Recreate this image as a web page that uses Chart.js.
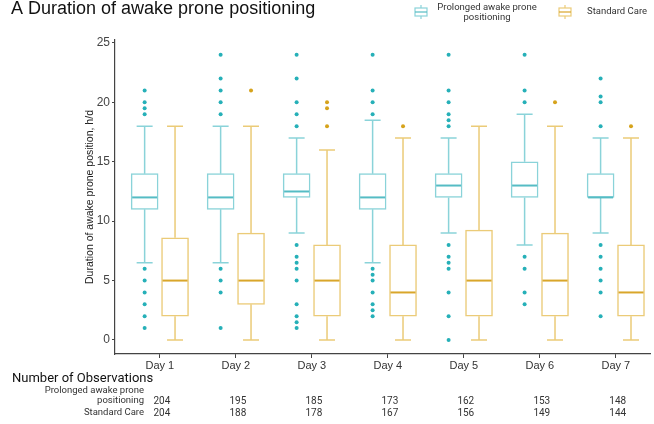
<!DOCTYPE html>
<html lang="en">
<head>
<meta charset="UTF-8">
<title>Duration of awake prone positioning</title>
<script src="https://cdn.jsdelivr.net/npm/chart.js"></script>
<style>
  html, body { margin: 0; padding: 0; background: #fff; }
</style>
</head>
<body>
<canvas id="boxChart" width="654" height="424"></canvas>
<script>
// categories
const days = ['Day 1', 'Day 2', 'Day 3', 'Day 4', 'Day 5', 'Day 6', 'Day 7'];
const yTicks = [0, 5, 10, 15, 20, 25];

// Prolonged awake prone positioning (h/d)
const proneLow  = [6.5, 6.5, 9, 6.5, 9, 8, 9];
const proneQ1   = [11, 11, 12, 11, 12, 12, 12];
const proneMed  = [12, 12, 12.5, 12, 13, 13, 12];
const proneQ3   = [14, 14, 14, 14, 14, 15, 14];
const proneHigh = [18, 18, 17, 18.5, 17, 19, 17];
const proneOutliers = [
    [21, 20, 19.5, 19, 6, 5, 4, 3, 2, 1],
    [24, 22, 21, 20, 19, 6, 5, 4, 1],
    [24, 22, 20, 19, 18, 8, 7, 6.5, 6, 5, 3, 2, 1.5, 1],
    [24, 21, 20, 19, 6, 5.5, 5, 4, 3, 2.5, 2],
    [24, 21, 20, 19, 18.5, 18, 8, 7, 6.5, 6, 4, 2, 0],
    [24, 21, 20, 7, 6, 4, 3],
    [22, 20.5, 20, 18, 8, 7, 6, 5, 4, 2]
];

// Standard care (h/d)
const stdLow  = [0, 0, 0, 0, 0, 0, 0];
const stdQ1   = [2, 3, 2, 2, 2, 2, 2];
const stdMed  = [5, 5, 5, 4, 5, 5, 4];
const stdQ3   = [8.6, 9, 8, 8, 9.25, 9, 8];
const stdHigh = [18, 18, 16, 17, 18, 18, 17];
const stdOutliers = [[], [21], [20, 19.5, 18], [18], [], [20], [18]];

// number of observations
const obsProne = [204, 195, 185, 173, 162, 153, 148];
const obsStd   = [204, 188, 178, 167, 156, 149, 144];

// colours
const proneLine = '#8ad3d9';
const proneMid  = '#55bcc4';
const proneDot  = '#26b0b8';
const stdLine   = '#ebcb78';
const stdMid    = '#d9a62a';
const stdDot    = '#d6a31c';

const OFFSET = 0.2;   // half distance between the two boxes of a day
const BOX_W = 27;
const CAP_W = 16;

function boxData(q1, q3, off) {
    return days.map((d, i) => ({ x: i + 1 + off, y: [q1[i], q3[i]] }));
}
function outlierData(list, off) {
    const pts = [];
    list.forEach((vals, i) => vals.forEach(v => pts.push({ x: i + 1 + off, y: v })));
    return pts;
}

const groups = [
    { off: -OFFSET, low: proneLow, q1: proneQ1, med: proneMed, q3: proneQ3, high: proneHigh, line: proneLine, mid: proneMid },
    { off: OFFSET, low: stdLow, q1: stdQ1, med: stdMed, q3: stdQ3, high: stdHigh, line: stdLine, mid: stdMid }
];

// whiskers, medians, title, legend and the observation table
const boxParts = {
    id: 'boxParts',
    afterDatasetsDraw(chart) {
        const { ctx, scales: { x, y } } = chart;
        ctx.save();
        groups.forEach(g => {
            days.forEach((d, i) => {
                const cx = x.getPixelForValue(i + 1 + g.off);
                ctx.strokeStyle = g.line;
                ctx.lineWidth = 1.5;
                ctx.beginPath();
                ctx.moveTo(cx, y.getPixelForValue(g.high[i]));
                ctx.lineTo(cx, y.getPixelForValue(g.q3[i]));
                ctx.moveTo(cx, y.getPixelForValue(g.q1[i]));
                ctx.lineTo(cx, y.getPixelForValue(g.low[i]));
                ctx.moveTo(cx - CAP_W / 2, y.getPixelForValue(g.high[i]));
                ctx.lineTo(cx + CAP_W / 2, y.getPixelForValue(g.high[i]));
                ctx.moveTo(cx - CAP_W / 2, y.getPixelForValue(g.low[i]));
                ctx.lineTo(cx + CAP_W / 2, y.getPixelForValue(g.low[i]));
                ctx.stroke();
                ctx.strokeStyle = g.mid;
                ctx.lineWidth = 2;
                ctx.beginPath();
                ctx.moveTo(cx - BOX_W / 2 + 1, y.getPixelForValue(g.med[i]));
                ctx.lineTo(cx + BOX_W / 2 - 1, y.getPixelForValue(g.med[i]));
                ctx.stroke();
            });
        });
        ctx.restore();
    },
    afterDraw(chart) {
        const { ctx, scales: { x } } = chart;
        ctx.save();
        // title
        ctx.fillStyle = '#111';
        ctx.font = '18px "Liberation Sans", Arial, sans-serif';
        ctx.textAlign = 'left';
        ctx.textBaseline = 'alphabetic';
        ctx.fillText('A Duration of awake prone positioning', 11, 14);

        // legend
        const legendIcon = (cx, cy, line, mid) => {
            ctx.strokeStyle = line;
            ctx.lineWidth = 1.2;
            ctx.beginPath();
            ctx.moveTo(cx, cy - 7); ctx.lineTo(cx, cy - 4);
            ctx.moveTo(cx, cy + 4); ctx.lineTo(cx, cy + 7);
            ctx.stroke();
            ctx.strokeRect(cx - 6, cy - 4, 12, 8);
            ctx.strokeStyle = mid;
            ctx.beginPath();
            ctx.moveTo(cx - 6, cy); ctx.lineTo(cx + 6, cy);
            ctx.stroke();
        };
        legendIcon(421, 12, proneLine, proneMid);
        legendIcon(565, 12, stdLine, stdMid);
        ctx.fillStyle = '#333';
        ctx.font = '9.5px Roboto, sans-serif';
        ctx.textBaseline = 'middle';
        ctx.textAlign = 'center';
        ctx.fillText('Prolonged awake prone', 487, 8);
        ctx.fillText('positioning', 487, 18);
        ctx.textAlign = 'left';
        ctx.fillText('Standard Care', 587, 12);

        // observation table
        ctx.fillStyle = '#111';
        ctx.font = '13px Roboto, sans-serif';
        ctx.fillText('Number of Observations', 12, 379);
        ctx.fillStyle = '#333';
        ctx.font = '9.5px Roboto, sans-serif';
        ctx.textAlign = 'right';
        ctx.fillText('Prolonged awake prone', 144, 391);
        ctx.fillText('positioning', 144, 401);
        ctx.fillText('Standard Care', 144, 413);
        ctx.textAlign = 'center';
        ctx.font = '10px Roboto, sans-serif';
        days.forEach((d, i) => {
            const px = x.getPixelForValue(i + 1) + 2;
            ctx.fillText(String(obsProne[i]), px, 401);
            ctx.fillText(String(obsStd[i]), px, 413);
        });
        ctx.restore();
    }
};

const ctx = document.getElementById('boxChart').getContext('2d');
const chart = new Chart(ctx, {
    data: {
        datasets: [{
            type: 'bar',
            label: 'Prolonged awake prone positioning',
            data: boxData(proneQ1, proneQ3, -OFFSET),
            backgroundColor: '#ffffff',
            borderColor: proneLine,
            borderWidth: 1.5,
            borderSkipped: false,
            barThickness: BOX_W,
            grouped: false
        }, {
            type: 'bar',
            label: 'Standard Care',
            data: boxData(stdQ1, stdQ3, OFFSET),
            backgroundColor: '#ffffff',
            borderColor: stdLine,
            borderWidth: 1.5,
            borderSkipped: false,
            barThickness: BOX_W,
            grouped: false
        }, {
            type: 'scatter',
            label: 'Prolonged outliers',
            data: outlierData(proneOutliers, -OFFSET),
            pointRadius: 2,
            pointBackgroundColor: proneDot,
            pointBorderWidth: 0
        }, {
            type: 'scatter',
            label: 'Standard outliers',
            data: outlierData(stdOutliers, OFFSET),
            pointRadius: 2,
            pointBackgroundColor: stdDot,
            pointBorderWidth: 0
        }]
    },
    options: {
        responsive: false,
        animation: false,
        devicePixelRatio: 1,
        layout: { padding: { top: 40, left: 84, right: 0, bottom: 0 } },
        plugins: {
            legend: { display: false },
            tooltip: { enabled: false }
        },
        scales: {
            x: {
                type: 'linear',
                offset: false,
                min: 0.41,
                max: 7.45,
                afterBuildTicks: scale => { scale.ticks = days.map((d, i) => ({ value: i + 1 })); },
                afterFit: scale => { scale.height = 70; },
                ticks: {
                    callback: v => days[v - 1],
                    color: '#333',
                    font: { family: '"Liberation Sans", Arial, sans-serif', size: 11 },
                    padding: 1,
                    maxRotation: 0
                },
                grid: { offset: false, drawOnChartArea: false, drawTicks: true, tickLength: 4, color: '#444' },
                border: { display: true, color: '#444', width: 1.2 }
            },
            y: {
                type: 'linear',
                min: -1.18,
                max: 25.25,
                afterBuildTicks: scale => { scale.ticks = yTicks.map(v => ({ value: v })); },
                afterFit: scale => { scale.width = 31; },
                ticks: {
                    color: '#444',
                    font: { family: '"Liberation Sans", Arial, sans-serif', size: 12 },
                    padding: 2
                },
                grid: { drawOnChartArea: false, drawTicks: true, tickLength: 3, color: '#444' },
                border: { display: true, color: '#444', width: 1.2 },
                title: {
                    display: true,
                    text: 'Duration of awake prone position, h/d',
                    color: '#222',
                    font: { family: '"Liberation Sans", Arial, sans-serif', size: 10.5 },
                    padding: 0
                }
            }
        }
    },
    plugins: [boxParts]
});
</script>
</body>
</html>
